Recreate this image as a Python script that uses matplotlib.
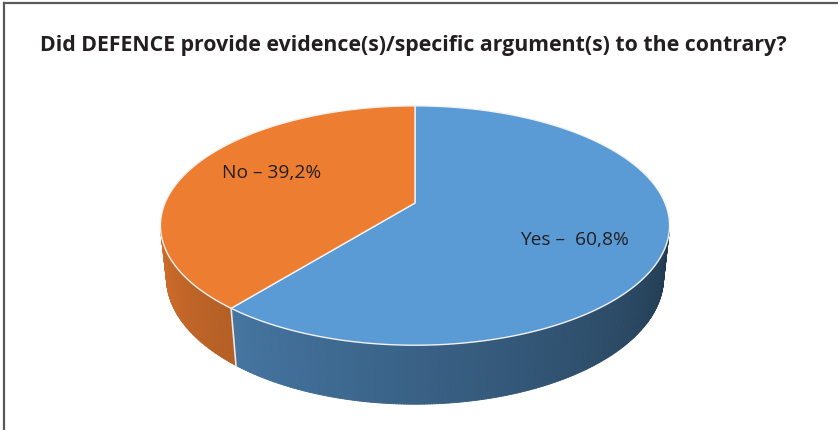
import numpy as np
import matplotlib
matplotlib.use("Agg")
import matplotlib.pyplot as plt
from matplotlib.patches import Polygon
from matplotlib.lines import Line2D

# data
labels = ["Yes", "No"]
shares = [60.8, 39.2]
label_text = ["Yes \u2013  60,8%", "No \u2013 39,2%"]
colors = ["#5b9bd5", "#ed7d31"]
title = "Did DEFENCE provide evidence(s)/specific argument(s) to the contrary?"

# 3d view settings
tilt = np.radians(27.5)
dist = 4.71
thick = 0.237
scale = 1177.5
cx, cy = 415, 203

s, c = np.sin(tilt), np.cos(tilt)


def proj(x, y, z):
    # perspective projection of a point on the disc (y goes away from viewer)
    depth = dist + y * c - z * s
    u = x / depth
    v = (y * s + z * c) / depth
    return cx + u * scale, cy - v * scale


fig = plt.figure(figsize=(8.38, 4.30), dpi=100)
ax = fig.add_axes([0, 0, 1, 1])
ax.set_xlim(0, 838)
ax.set_ylim(430, 0)
ax.axis("off")

# slice angles, clockwise from 12 o'clock
fr = np.array(shares) / sum(shares)
ends = 90 - 360 * np.cumsum(fr)
starts = np.concatenate([[90], ends[:-1]])

# side walls (front part only)
vis_lo = 180 + np.degrees(np.arcsin(1 / (dist * c)))
vis_hi = 360 - np.degrees(np.arcsin(1 / (dist * c)))
step = 0.5
for a in np.arange(vis_lo, vis_hi, step):
    mid = a + step / 2
    # which slice does this angle belong to
    m = (mid - 90) % 360 - 360  # in (-360, 0]
    idx = 0
    for i in range(len(shares)):
        if starts[i] - 90 >= m > ends[i] - 90:
            idx = i
    t = (mid - vis_lo) / (vis_hi - vis_lo)
    f = 0.88 - 0.5 * t
    rgb = np.array(matplotlib.colors.to_rgb(colors[idx])) * f
    a0, a1 = np.radians(a), np.radians(a + step + 0.05)
    pts = [proj(np.cos(a0), np.sin(a0), 0), proj(np.cos(a1), np.sin(a1), 0),
           proj(np.cos(a1), np.sin(a1), -thick), proj(np.cos(a0), np.sin(a0), -thick)]
    ax.add_patch(Polygon(pts, closed=True, facecolor=rgb, edgecolor=rgb, lw=0.6))

# white line where the slices meet on the wall
for e in ends[:-1]:
    ae = np.radians(e)
    p0 = proj(np.cos(ae), np.sin(ae), 0)
    p1 = proj(np.cos(ae), np.sin(ae), -thick)
    ax.plot([p0[0], p1[0]], [p0[1], p1[1]], color="#e8e8e8", lw=1.2)

# top faces
for i in range(len(shares)):
    th = np.radians(np.linspace(starts[i], ends[i], 200))
    pts = [proj(0, 0, 0)] + [proj(np.cos(t_), np.sin(t_), 0) for t_ in th]
    ax.add_patch(Polygon(pts, closed=True, facecolor=colors[i],
                         edgecolor="#f2f2f2", lw=1.0, joinstyle="round"))

# labels
for i in range(len(shares)):
    mid = np.radians((starts[i] + ends[i]) / 2 - 6)
    r = 0.67
    x, y = proj(r * np.cos(mid), r * np.sin(mid), 0)
    ax.text(x, y, label_text[i], ha="center", va="center_baseline",
            fontsize=13.8, family="Open Sans", color="#231f20")

# title
fig.text(40 / 838, 1 - 46 / 430, title, ha="left", va="center",
         fontsize=15.3, fontweight="bold", family="Open Sans", color="#231f20")

# frame (top and left)
fig.add_artist(Line2D([3.5 / 838, 3.5 / 838], [0, 1 - 2.5 / 430],
                      transform=fig.transFigure, color="#595959", lw=1.6))
fig.add_artist(Line2D([3.5 / 838, 1], [1 - 2.5 / 430, 1 - 2.5 / 430],
                      transform=fig.transFigure, color="#595959", lw=1.6))

fig.savefig("out.png", dpi=100, facecolor="white")
